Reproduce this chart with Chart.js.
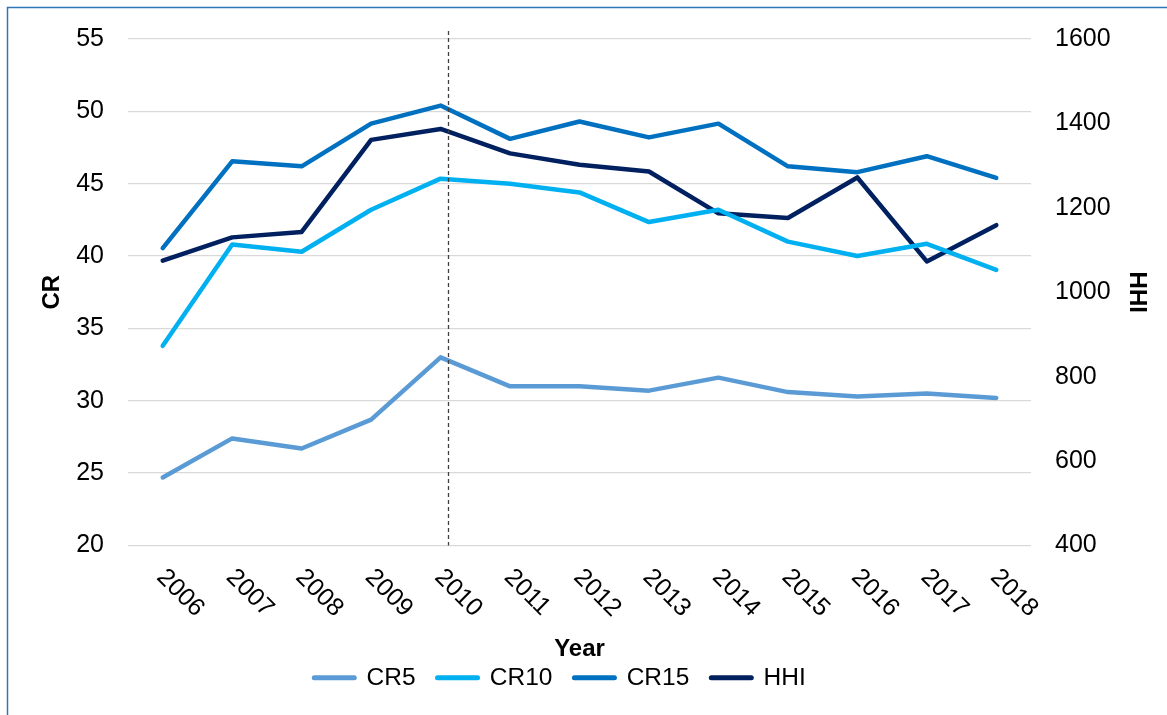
<!DOCTYPE html>
<html><head><meta charset="utf-8">
<script src="https://cdn.jsdelivr.net/npm/chart.js@4.4.1/dist/chart.umd.min.js"></script>
<style>html,body{margin:0;padding:0;background:#fff;overflow:hidden}</style>
</head><body>
<canvas id="c" width="1167" height="715"></canvas>
<script>
const years = ['2006','2007','2008','2009','2010','2011','2012','2013','2014','2015','2016','2017','2018'];
const cr5  = [24.7, 27.4, 26.7, 28.7, 33.0, 31.0, 31.0, 30.7, 31.6, 30.6, 30.3, 30.5, 30.2];
const cr10 = [33.8, 40.8, 40.3, 43.2, 45.35, 45.0, 44.4, 42.35, 43.2, 41.0, 40.0, 40.85, 39.05];
const cr15 = [40.55, 46.55, 46.2, 49.15, 50.4, 48.1, 49.3, 48.2, 49.15, 46.2, 45.8, 46.9, 45.4];
const hhi  = [1075, 1130, 1143, 1361, 1387, 1329, 1302, 1286, 1187, 1176, 1272, 1073, 1159];
const crTicks = {min: 20, max: 55, step: 5};
const hhiTicks = {min: 400, max: 1600, step: 200};
const dividerYear = '2010';

const FONT = "'Liberation Sans', Arial, sans-serif";
Chart.defaults.font.family = FONT;
Chart.defaults.color = '#000';

const framePlugin = {
  id: 'frame',
  beforeDraw(chart) {
    const ctx = chart.ctx;
    ctx.save();
    ctx.strokeStyle = '#2E75B6';
    ctx.lineWidth = 1.5;
    ctx.beginPath();
    ctx.moveTo(7.5, chart.height);
    ctx.lineTo(7.5, 7.5);
    ctx.lineTo(chart.width, 7.5);
    ctx.stroke();
    ctx.restore();
  }
};

const xLabelPlugin = {
  id: 'xlab',
  afterDraw(chart) {
    const xs = chart.scales.x, ctx = chart.ctx, b = chart.chartArea.bottom;
    ctx.save();
    ctx.font = "25px " + FONT;
    ctx.fillStyle = '#000';
    ctx.textAlign = 'left';
    ctx.textBaseline = 'middle';
    years.forEach((yr, i) => {
      const x = xs.getPixelForValue(i);
      ctx.save();
      ctx.translate(x - 2, b + 28);
      ctx.rotate(Math.PI / 4);
      ctx.fillText(yr, 0, 0);
      ctx.restore();
    });
    ctx.restore();
  }
};

const dividerPlugin = {
  id: 'divider',
  afterDatasetsDraw(chart) {
    const xs = chart.scales.x, ctx = chart.ctx, a = chart.chartArea;
    const i = years.indexOf(dividerYear);
    const step = xs.getPixelForValue(1) - xs.getPixelForValue(0);
    const x = Math.round(xs.getPixelForValue(i) + 0.11 * step) + 0.5;
    ctx.save();
    ctx.strokeStyle = '#404040';
    ctx.lineWidth = 1.3;
    ctx.setLineDash([4, 3]);
    ctx.beginPath();
    ctx.moveTo(x, a.top - 8);
    ctx.lineTo(x, a.bottom);
    ctx.stroke();
    ctx.restore();
  }
};

const colors = {CR5: '#5B9BD5', CR10: '#00B0F0', CR15: '#0070C0', HHI: '#002060'};

new Chart(document.getElementById('c'), {
  type: 'line',
  data: {
    labels: years,
    datasets: [
      {label: 'CR5', data: cr5, yAxisID: 'y', borderColor: colors.CR5, backgroundColor: colors.CR5},
      {label: 'CR10', data: cr10, yAxisID: 'y', borderColor: colors.CR10, backgroundColor: colors.CR10},
      {label: 'CR15', data: cr15, yAxisID: 'y', borderColor: colors.CR15, backgroundColor: colors.CR15},
      {label: 'HHI', data: hhi, yAxisID: 'y1', borderColor: colors.HHI, backgroundColor: colors.HHI}
    ]
  },
  options: {
    responsive: false,
    animation: false,
    devicePixelRatio: 1,
    layout: {padding: {top: 35, left: 0, right: 47, bottom: 15}},
    elements: {
      line: {borderWidth: 4.5, tension: 0, borderCapStyle: 'round', borderJoinStyle: 'round', fill: false},
      point: {radius: 0, hoverRadius: 0}
    },
    plugins: {
      tooltip: {enabled: false},
      legend: {
        position: 'bottom',
        labels: {
          usePointStyle: true,
          pointStyle: 'line',
          pointStyleWidth: 40,
          padding: 22,
          color: '#000',
          font: {size: 24.5},
          generateLabels(chart) {
            const items = Chart.defaults.plugins.legend.labels.generateLabels(chart);
            items.forEach((it, i) => {
              const ds = chart.data.datasets[i];
              it.lineWidth = 5;
              it.lineCap = 'round';
              it.strokeStyle = ds.borderColor;
              it.fillStyle = ds.borderColor;
              it.pointStyle = 'line';
            });
            return items;
          }
        }
      }
    },
    scales: {
      x: {
        offset: true,
        grid: {display: false, offset: true},
        border: {display: false},
        ticks: {display: false},
        title: {display: true, text: 'Year', font: {size: 24, weight: 'bold'}, padding: {top: 0, bottom: -20.4}},
        afterFit(s) { s.height = 98; }
      },
      y: {
        position: 'left',
        min: crTicks.min, max: crTicks.max,
        ticks: {stepSize: crTicks.step, padding: 24, font: {size: 25}},
        grid: {color: '#D9D9D9', lineWidth: 1.3, drawTicks: false},
        border: {display: false},
        title: {display: true, text: 'CR', font: {size: 24, weight: 'bold'}, padding: {top: 37.6, bottom: 0}},
        afterFit(s) { s.width = 128; }
      },
      y1: {
        position: 'right',
        min: hhiTicks.min, max: hhiTicks.max,
        ticks: {stepSize: hhiTicks.step, padding: 24, font: {size: 25}, callback: (v) => String(v)},
        grid: {display: false, drawTicks: false},
        border: {display: false},
        title: {display: true, text: 'HHI', font: {size: 24, weight: 'bold'}, padding: {top: -31.4, bottom: 0}},
        afterFit(s) { s.width = 89; }
      }
    }
  },
  plugins: [framePlugin, xLabelPlugin, dividerPlugin]
});
</script>
</body></html>
